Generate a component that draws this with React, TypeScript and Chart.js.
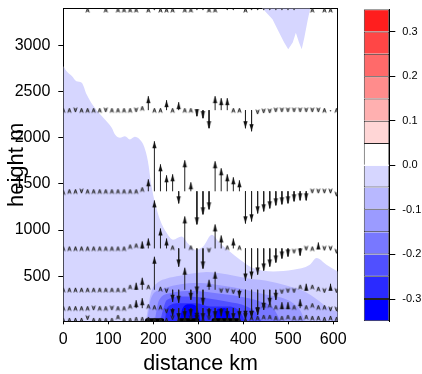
import React, { useEffect, useRef } from 'react';
import { Chart, registerables } from 'chart.js';

Chart.register(...registerables);

const FONT = "'Liberation Sans', Arial, Helvetica, sans-serif";

// ---- axes ----
const X_MIN = 0;
const X_MAX = 610;
const Y_MIN = 10;
const Y_MAX = 3405;
const X_TICKS = [0, 100, 200, 300, 400, 500, 600];
const Y_TICKS = [500, 1000, 1500, 2000, 2500, 3000];

// ---- vertical-velocity arrows (m/s) on model grid ----
const ARROW_X = [0, 13.5, 27, 40.5, 54, 67.5, 81, 94.5, 108, 121.5, 135, 148.5, 162, 175.5, 189, 202.5, 216, 229.5, 243, 256.5, 270, 283.5, 297, 310.5, 324, 337.5, 351, 364.5, 378, 391.5, 405, 418.5, 432, 445.5, 459, 472.5, 486, 499.5, 513, 526.5, 540, 553.5, 567, 580.5, 594, 607.5];
const ROW_HEIGHTS = [36, 152, 352, 800, 1420, 2300, 3387];
const W_036 = [0.02, 0.02, 0.02, 0.02, -0.02, 0.02, 0.02, 0.02, 0.02, 0.08, 0.02, 0.02, 0.04, 0.04, 0.04, 0.02, 0.02, 0.02, -0.02, 0.02, 0.02, -0.02, 0.02, 0.02, -0.02, 0.02, 0.02, 0.02, 0.02, 0.02, 0.02, 0.06, 0.06, 0.08, 0.08, 0.06, 0.06, 0.08, 0.06, 0.06, 0.08, 0.06, 0.06, 0.04, 0.06, 0.04];
const W_152 = [0.04, 0.04, 0.04, 0.04, 0.04, -0.04, 0.04, 0.04, -0.04, 0.04, 0.04, 0.08, 0.16, 0.2, 0.08, 0.06, 0.06, -0.1, -0.16, -0.24, -0.2, -0.16, -0.28, -0.24, -0.16, -0.2, -0.16, -0.2, -0.24, -0.2, -0.24, -0.2, -0.12, 0.1, 0.1, 0.06, 0.12, 0.12, 0.06, 0.18, 0.06, 0.1, 0.06, 0.06, -0.06, -0.06];
const W_352 = [0.04, 0.04, 0.04, 0.04, 0.04, 0.04, 0.04, 0.04, 0.04, 0.04, 0.04, 0.1, 0.14, 0.24, 0.1, 0.66, 0.06, -0.06, -0.24, -0.26, 0.44, -0.2, -0.6, -0.3, 0.2, 0.36, -0.06, -0.06, -0.08, -0.16, -0.56, -0.56, -0.5, -0.4, -0.3, -0.2, -0.08, -0.06, -0.06, 0.1, 0.12, 0.1, 0.06, -0.06, 0.12, -0.06];
const W_800 = [0.04, 0.04, 0.04, 0.04, 0.04, 0.04, 0.04, 0.04, 0.04, 0.04, 0.04, 0.08, 0.1, 0.14, 0.2, 0.96, 0.4, 0.2, 0.06, -0.36, 0.64, 0.06, -0.9, -0.4, -0.08, 0.48, 0.26, 0.06, 0.2, 0.06, -0.64, -0.6, -0.52, -0.44, -0.36, -0.28, -0.2, -0.16, -0.1, -0.14, -0.04, 0.04, 0.12, -0.04, -0.04, -0.1];
const W_1420 = [0.02, 0.04, 0.04, -0.04, 0.04, 0.04, 0.04, 0.04, 0.04, 0.04, 0.04, 0.04, 0.04, 0.08, 0.24, 1.0, 0.54, 0.32, 0.34, -0.24, 0.62, 0.18, -0.66, -0.46, -0.36, 0.6, 0.46, 0.34, 0.28, 0.22, -0.64, -0.6, -0.44, -0.4, -0.34, -0.28, -0.26, -0.24, -0.2, -0.18, -0.18, -0.04, -0.04, -0.04, -0.04, -0.1];
const W_2300 = [0.04, 0.04, -0.04, 0.04, 0.04, 0.04, 0.04, -0.04, 0.04, 0.04, 0.04, 0.04, -0.04, 0.08, 0.28, 0.04, 0.04, 0.2, 0.04, 0.16, 0.04, 0.04, -0.12, -0.16, -0.36, 0.28, 0.24, 0.24, 0.04, 0.04, -0.36, -0.42, -0.08, -0.06, -0.06, -0.04, -0.04, -0.04, -0.04, -0.04, -0.04, -0.04, -0.04, 0.04, -0.01, 0.04];
const W_3387 = [0, 0, 0, 0, 0.04, 0, 0, 0.04, 0, 0.04, 0.04, 0.04, 0.04, 0, 0.04, 0.01, 0.04, 0.04, 0.04, 0, 0.04, 0.04, 0.01, 0.01, 0.04, 0.04, 0, 0.01, 0.01, 0, 0.04, 0.01, 0.01, 0.01, 0.01, 0.01, 0.01, 0.01, 0.01, 0, 0, 0.04, 0, 0.04, 0.04, 0];
const ARROW_ROWS = [W_036, W_152, W_352, W_800, W_1420, W_2300, W_3387];
const ARROW_SCALE = 543; // metres of arrow length per 1 m/s

// ---- shaded w contours: upper edge of each level region (km, m) ----
const L1_X = [0, 7, 19, 29, 41, 52, 67, 82, 96, 108, 115, 126, 137, 148, 159, 170, 180, 188, 196, 204, 215, 230, 244, 263, 278, 293, 311, 330, 348, 370, 393, 422, 467, 511, 548, 563, 585, 610];
const L1_Y = [2780, 2725, 2670, 2615, 2598, 2470, 2345, 2255, 2180, 2108, 2036, 2000, 2017, 1982, 2011, 1982, 1900, 1750, 1480, 1293, 1112, 967, 895, 930, 850, 786, 822, 949, 859, 767, 677, 587, 550, 568, 623, 696, 623, 550];
const L1B_X = [441, 447, 465, 480, 491, 500, 510, 517, 524, 530, 536, 543, 549];
const L1B_Y = [3405, 3380, 3286, 3141, 3033, 2960, 3033, 3141, 3033, 2960, 3090, 3271, 3405];
const L2_X = [183, 195, 210, 230, 259, 290, 319, 363, 408, 452, 498, 535, 557, 580, 600, 610];
const L2_Y = [0, 320, 430, 475, 505, 530, 545, 520, 478, 450, 395, 335, 270, 188, 130, 110];
const L3_X = [186, 195, 215, 252, 304, 348, 408, 452, 489, 511, 526, 538];
const L3_Y = [0, 260, 350, 405, 425, 400, 350, 297, 260, 206, 134, 0];
const L4_X = [203, 212, 237, 289, 341, 393, 437, 467, 484];
const L4_Y = [0, 230, 315, 340, 315, 278, 224, 152, 0];
const L5_X = [215, 222, 230, 274, 319, 363, 408, 430, 442];
const L5_Y = [0, 140, 242, 278, 261, 224, 170, 98, 0];
const L6_X = [226, 230, 259, 296, 326, 363, 393, 405];
const L6_Y = [0, 152, 206, 206, 170, 170, 115, 0];
const L7A_X = [258, 265, 280, 297, 306];
const L7A_Y = [0, 150, 195, 170, 0];
const L7B_X = [335, 342, 355, 368, 375];
const L7B_Y = [0, 140, 155, 120, 0];

// ---- dense near-surface arrows (black bands) ----
const SURF_START = [186, 260, 334];
const SURF_END = [220, 298, 388];
const SURF_H = 22;

// ---- colour bar ----
const CB_BOUNDS = [-0.35, -0.3, -0.25, -0.2, -0.15, -0.1, -0.05, 0, 0.05, 0.1, 0.15, 0.2, 0.25, 0.3, 0.35];
const CB_COLORS = ['#0000ff', '#2a2aff', '#5050ff', '#7878ff', '#9b9bff', '#b8b8ff', '#d6d6ff', '#ffffff', '#ffd6d6', '#ffb0b0', '#ff8c8c', '#ff6a6a', '#ff4646', '#ff1e1e'];
const CB_TICKS = [-0.3, -0.2, -0.1, 0, 0.1, 0.2, 0.3];

function makeHead(kind: 'fill' | 'caret'): HTMLCanvasElement {
  const c = document.createElement('canvas');
  const g = c.getContext('2d') as CanvasRenderingContext2D;
  if (kind === 'fill') {
    c.width = 7; c.height = 16;
    g.fillStyle = '#111';
    g.beginPath(); g.moveTo(3.5, 8); g.lineTo(1.4, 15); g.lineTo(5.6, 15); g.closePath(); g.fill();
  } else {
    c.width = 7; c.height = 12;
    g.strokeStyle = '#222'; g.lineWidth = 1;
    g.beginPath(); g.moveTo(1.9, 10.5); g.lineTo(3.5, 6); g.lineTo(5.1, 10.5); g.stroke();
    g.strokeStyle = 'rgba(40,40,40,0.5)';
    g.beginPath(); g.moveTo(3.5, 6.5); g.lineTo(3.5, 10); g.stroke();
  }
  return c;
}

function contour(xs: number[], ys: number[], color: string, order: number, fill: string = 'start', smooth = true) {
  return {
    type: 'line',
    data: xs.map((x, i) => ({ x, y: ys[i] })),
    fill,
    backgroundColor: color,
    borderColor: 'rgba(0,0,0,0)',
    borderWidth: 0,
    pointRadius: 0,
    cubicInterpolationMode: smooth ? 'monotone' : 'default',
    tension: 0,
    order,
  };
}

const noPad = (s: any) => { s.paddingTop = 0; s.paddingBottom = 0; s.paddingLeft = 0; s.paddingRight = 0; };

export default function App() {
  const mainRef = useRef<HTMLCanvasElement>(null);
  const cbRef = useRef<HTMLCanvasElement>(null);

  useEffect(() => {
    Chart.defaults.font.family = FONT;
    Chart.defaults.color = '#000';
    const headFill = makeHead('fill');
    const headCaret = makeHead('caret');

    const stems: any[] = [];
    const heads: any[] = [];
    ROW_HEIGHTS.forEach((h, r) => {
      ARROW_ROWS[r].forEach((w, i) => {
        if (w === 0) return;
        const x = ARROW_X[i];
        const tip = h + w * ARROW_SCALE;
        if (Math.abs(w) >= 0.12) {
          stems.push({ x, y: h }, { x, y: tip }, { x, y: null });
        }
        heads.push({ x, y: tip, w });
      });
    });

    const surf: any[] = [];
    SURF_START.forEach((s, i) => {
      surf.push({ x: s, y: SURF_H }, { x: SURF_END[i], y: SURF_H }, { x: SURF_END[i] + 1, y: null });
    });

    const main = new Chart(mainRef.current as HTMLCanvasElement, {
      type: 'line',
      data: {
        datasets: [
          contour(L1_X, L1_Y, CB_COLORS[6], 20),
          contour(L1B_X, L1B_Y, CB_COLORS[6], 20, 'end', false),
          contour(L2_X, L2_Y, CB_COLORS[5], 19),
          contour(L3_X, L3_Y, CB_COLORS[4], 18),
          contour(L4_X, L4_Y, CB_COLORS[3], 17),
          contour(L5_X, L5_Y, CB_COLORS[2], 16),
          contour(L6_X, L6_Y, CB_COLORS[1], 15),
          contour(L7A_X, L7A_Y, CB_COLORS[0], 14),
          contour(L7B_X, L7B_Y, CB_COLORS[0], 14),
          {
            type: 'line', data: surf, borderColor: '#000', borderWidth: 4, borderCapStyle: 'round',
            pointRadius: 0, fill: false, order: 5,
          },
          {
            type: 'line', data: stems, borderColor: '#222', borderWidth: 1, pointRadius: 0,
            fill: false, spanGaps: false, order: 2,
          },
          {
            type: 'line', data: heads, showLine: false, fill: false, order: 1,
            pointStyle: (c: any) => {
              const w = c.raw ? Math.abs(c.raw.w) : 0;
              if (w < 0.02) return 'circle';
              return w >= 0.12 ? headFill : headCaret;
            },
            rotation: (c: any) => (c.raw && c.raw.w < 0 ? 180 : 0),
            pointRadius: (c: any) => (c.raw && Math.abs(c.raw.w) < 0.02 ? 0.8 : 3),
            pointBackgroundColor: '#444',
            pointBorderWidth: 0,
          },
        ] as any,
      },
      options: {
        responsive: false,
        animation: false,
        events: [],
        layout: { padding: { left: 0, right: 84.3, top: 8.3, bottom: 0 } },
        plugins: { legend: { display: false }, tooltip: { enabled: false } },
        scales: {
          x: {
            type: 'linear', position: 'bottom', min: X_MIN, max: X_MAX,
            afterBuildTicks: (s: any) => { s.ticks = X_TICKS.map((v) => ({ value: v })); },
            afterFit: (s: any) => { s.height = 52.7; noPad(s); },
            ticks: { color: '#000', font: { family: FONT, size: 16 }, padding: 5.6, maxRotation: 0, autoSkip: false, callback: (v: any) => String(v) },
            grid: { display: true, drawOnChartArea: false, drawTicks: true, tickLength: 3, color: '#000' },
            border: { display: true, color: '#000', width: 1 },
            title: { display: true, text: 'distance km', color: '#000', font: { family: FONT, size: 21.5, lineHeight: 0.88 }, padding: 0 },
          },
          y: {
            type: 'linear', position: 'left', min: Y_MIN, max: Y_MAX,
            afterBuildTicks: (s: any) => { s.ticks = Y_TICKS.map((v) => ({ value: v })); },
            afterFit: (s: any) => { s.width = 63.3; noPad(s); },
            ticks: { color: '#000', font: { family: FONT, size: 16 }, padding: 8, autoSkip: false, callback: (v: any) => String(v) },
            grid: { display: true, drawOnChartArea: false, drawTicks: true, tickLength: 5, color: '#000' },
            border: { display: true, color: '#000', width: 1 },
            title: { display: true, text: 'height m', color: '#000', font: { family: FONT, size: 22 }, padding: { top: 4, bottom: 0 } },
          },
          xTop: {
            type: 'linear', position: 'top', min: X_MIN, max: X_MAX,
            afterFit: (s: any) => { s.height = 0; noPad(s); },
            ticks: { display: false },
            grid: { display: false, drawTicks: false },
            border: { display: true, color: '#000', width: 1 },
          },
          yRight: {
            type: 'linear', position: 'right', min: Y_MIN, max: Y_MAX,
            afterFit: (s: any) => { s.width = 0; noPad(s); },
            ticks: { display: false },
            grid: { display: false, drawTicks: false },
            border: { display: true, color: '#000', width: 1 },
          },
        },
      } as any,
    });

    const cb = new Chart(cbRef.current as HTMLCanvasElement, {
      type: 'bar',
      data: {
        labels: [''],
        datasets: CB_COLORS.map((c, i) => ({
          data: [[CB_BOUNDS[i], CB_BOUNDS[i + 1]]],
          backgroundColor: c,
          borderColor: '#222',
          borderWidth: 1,
          borderSkipped: i === 0 ? false : 'start',
          grouped: false,
          barPercentage: 1,
          categoryPercentage: 1,
          inflateAmount: 0,
        })) as any,
      },
      options: {
        responsive: false,
        animation: false,
        events: [],
        layout: { padding: { left: 23.7, right: 0, top: 9.3, bottom: 52.7 } },
        plugins: { legend: { display: false }, tooltip: { enabled: false } },
        scales: {
          x: { display: false },
          y: {
            position: 'right', min: -0.35, max: 0.35,
            afterBuildTicks: (s: any) => { s.ticks = CB_TICKS.map((v) => ({ value: v })); },
            afterFit: (s: any) => { s.width = 32.7; noPad(s); },
            ticks: { color: '#000', font: { family: FONT, size: 11 }, padding: 7, callback: (v: any) => Number(v).toFixed(1) },
            grid: { display: true, drawOnChartArea: false, drawTicks: true, tickLength: 6, color: '#000' },
            border: { display: true, color: '#000', width: 1 },
          },
        },
      } as any,
    });

    return () => { main.destroy(); cb.destroy(); };
  }, []);

  return (
    <div style={{ position: 'absolute', left: 0, top: 0, width: 422, height: 374, background: '#fff' }}>
      <canvas ref={mainRef} width={422} height={374} style={{ position: 'absolute', left: 0, top: 0 }} />
      <canvas ref={cbRef} width={82} height={374} style={{ position: 'absolute', left: 340, top: 0 }} />
    </div>
  );
}
